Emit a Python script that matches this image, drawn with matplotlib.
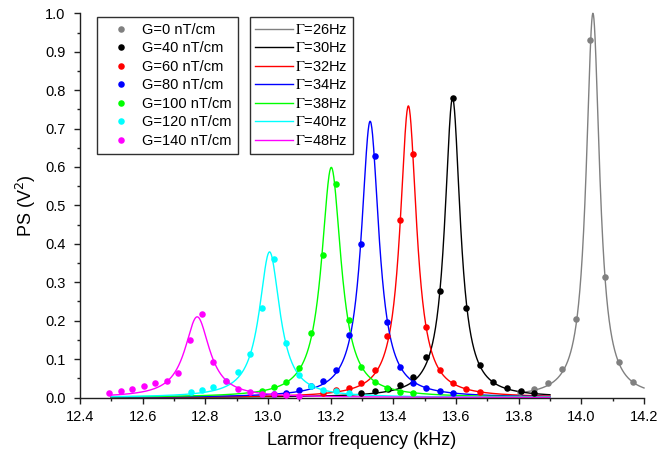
import numpy as np
import matplotlib
matplotlib.use("Agg")
import matplotlib.pyplot as plt
from matplotlib.ticker import MultipleLocator, FormatStrFormatter
from matplotlib.lines import Line2D

plt.rcParams['font.family'] = ['Liberation Sans', 'DejaVu Sans']

# ---- data ----
g_labels = ["G=0 nT/cm", "G=40 nT/cm", "G=60 nT/cm", "G=80 nT/cm",
            "G=100 nT/cm", "G=120 nT/cm", "G=140 nT/cm"]
gamma_hz = [26, 30, 32, 34, 38, 40, 48]
colors = ["#808080", "#000000", "#ff0000", "#0000ff", "#00ff00", "#00ffff", "#ff00ff"]

# fit parameters: peak centre (kHz), peak amplitude (V^2)
fit_center = [14.037, 13.589, 13.448, 13.326, 13.202, 13.005, 12.774]
fit_amp = [1.000, 0.779, 0.759, 0.719, 0.599, 0.379, 0.210]
fit_start = [13.80, 12.50, 12.50, 12.50, 12.50, 12.50, 12.50]
fit_stop = [14.20, 13.90, 13.90, 13.90, 13.90, 13.90, 13.90]

f_g0 = [13.804, 13.849, 13.894, 13.939, 13.983, 14.029, 14.075, 14.120, 14.166]
v_g0 = [0.015, 0.023, 0.039, 0.074, 0.204, 0.930, 0.314, 0.092, 0.041]

f_g40 = [13.298, 13.341, 13.384, 13.421, 13.463, 13.505, 13.548, 13.589,
         13.633, 13.676, 13.719, 13.763, 13.806, 13.849]
v_g40 = [0.013, 0.017, 0.023, 0.033, 0.053, 0.105, 0.278, 0.779,
         0.233, 0.084, 0.040, 0.024, 0.016, 0.011]

f_g60 = [13.177, 13.217, 13.258, 13.298, 13.340, 13.380, 13.422, 13.463,
         13.505, 13.548, 13.590, 13.633, 13.676]
v_g60 = [0.013, 0.019, 0.026, 0.038, 0.072, 0.160, 0.461, 0.634,
         0.183, 0.072, 0.037, 0.022, 0.014]

f_g80 = [13.019, 13.058, 13.098, 13.137, 13.177, 13.218, 13.257, 13.298,
         13.341, 13.380, 13.422, 13.463, 13.505, 13.548, 13.590]
v_g80 = [0.010, 0.013, 0.020, 0.029, 0.042, 0.071, 0.162, 0.400,
         0.628, 0.197, 0.080, 0.039, 0.024, 0.017, 0.013]

f_g100 = [12.980, 13.019, 13.058, 13.098, 13.137, 13.177, 13.217, 13.258,
          13.298, 13.340, 13.380, 13.422, 13.463]
v_g100 = [0.018, 0.028, 0.040, 0.078, 0.169, 0.372, 0.555, 0.202,
          0.080, 0.041, 0.024, 0.015, 0.011]

f_g120 = [12.753, 12.789, 12.826, 12.865, 12.903, 12.941, 12.980, 13.019,
          13.058, 13.098, 13.137, 13.177, 13.217, 13.258]
v_g120 = [0.014, 0.019, 0.027, 0.042, 0.066, 0.112, 0.234, 0.361,
          0.143, 0.059, 0.031, 0.020, 0.017, 0.011]

f_g140 = [12.494, 12.531, 12.567, 12.604, 12.640, 12.677, 12.714, 12.752,
          12.790, 12.826, 12.865, 12.903, 12.941, 12.980, 13.019, 13.058, 13.098]
v_g140 = [0.011, 0.018, 0.022, 0.031, 0.037, 0.044, 0.064, 0.150,
          0.217, 0.093, 0.043, 0.022, 0.014, 0.010, 0.008, 0.006, 0.005]

freqs = [f_g0, f_g40, f_g60, f_g80, f_g100, f_g120, f_g140]
values = [v_g0, v_g40, v_g60, v_g80, v_g100, v_g120, v_g140]


def lorentz(f, f0, a, hw):
    return a / (1.0 + ((f - f0) / hw) ** 2)


fig = plt.figure(figsize=(6.6, 4.57), dpi=100)
ax = fig.add_axes([80 / 660, 1 - 397.5 / 457, 564 / 660, 384.2 / 457])

# fitted curves
for i in range(len(colors)):
    ff = np.linspace(fit_start[i], fit_stop[i], 1200)
    ax.plot(ff, lorentz(ff, fit_center[i], fit_amp[i], gamma_hz[i] / 1000.0),
            color=colors[i], lw=1.0, zorder=2, clip_on=False)

# measured points
for i in range(len(colors)):
    ax.plot(freqs[i], values[i], 'o', color=colors[i], ms=4.7, mec='none',
            zorder=3, clip_on=False)

ax.set_xlim(12.4, 14.2)
ax.set_ylim(0.0, 1.0)
ax.xaxis.set_major_locator(MultipleLocator(0.2))
ax.xaxis.set_minor_locator(MultipleLocator(0.1))
ax.yaxis.set_major_locator(MultipleLocator(0.1))
ax.yaxis.set_minor_locator(MultipleLocator(0.05))
ax.xaxis.set_major_formatter(FormatStrFormatter('%.1f'))
ax.yaxis.set_major_formatter(FormatStrFormatter('%.1f'))

for s in ['top', 'right']:
    ax.spines[s].set_visible(False)
for s in ['left', 'bottom']:
    ax.spines[s].set_linewidth(1.0)
    ax.spines[s].set_color('#202020')

ax.tick_params(which='major', direction='out', length=4.5, width=1.0,
               labelsize=10.5, colors='#202020', labelcolor='black')
ax.tick_params(which='minor', direction='out', length=2.5, width=1.0,
               colors='#202020')
ax.tick_params(axis='x', which='major', pad=4.5)
ax.tick_params(axis='y', which='major', pad=6.0)

ax.set_xlabel("Larmor frequency (kHz)", fontsize=13, labelpad=6)
ax.set_ylabel("PS (V$^{2}$)", fontsize=13, labelpad=5)

# legends
pt_handles = [Line2D([], [], ls='none', marker='o', ms=4.7, mec='none', color=c)
              for c in colors]
leg1 = ax.legend(pt_handles, g_labels, loc='upper left',
                 bbox_to_anchor=(0.030, 0.99), borderaxespad=0,
                 fontsize=10.5, frameon=True, fancybox=False, framealpha=1,
                 edgecolor='#303030', handlelength=2.55, handletextpad=0.18,
                 borderpad=0.39, labelspacing=0.31)
leg1.get_frame().set_linewidth(1.0)
ax.add_artist(leg1)

ln_handles = [Line2D([], [], color=c, lw=1.0) for c in colors]
ln_labels = [r"$\Gamma$=%dHz" % g for g in gamma_hz]
leg2 = ax.legend(ln_handles, ln_labels, loc='upper left',
                 bbox_to_anchor=(0.301, 0.99), borderaxespad=0,
                 fontsize=10.5, frameon=True, fancybox=False, framealpha=1,
                 edgecolor='#303030', handlelength=2.6, handletextpad=0.12,
                 borderpad=0.39, labelspacing=0.31)
leg2.get_frame().set_linewidth(1.0)
for t in leg2.get_texts():
    t.set_math_fontfamily('stix')

fig.savefig("out.png", dpi=100)
